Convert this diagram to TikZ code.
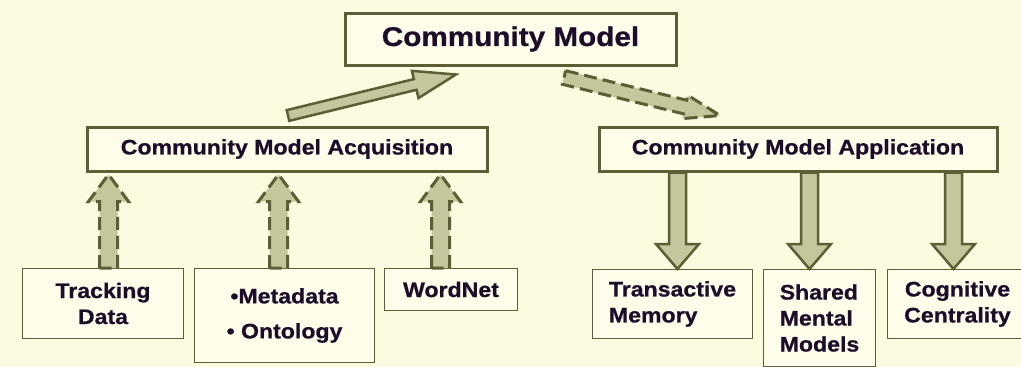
\documentclass[tikz,border=0pt]{standalone}
\usepackage{fontspec}
\setmainfont{Liberation Sans}[FakeStretch=1.1, BoldFeatures={FakeBold=0.8}]
\usetikzlibrary{positioning,calc}

\definecolor{bgcol}{HTML}{FBFCDF}
\definecolor{boxfill}{HTML}{FDFDEA}
\definecolor{boxline}{HTML}{5E5E36}
\definecolor{armfill}{HTML}{C6C69C}
\definecolor{txt}{HTML}{1E0D2A}

\begin{document}
\begin{tikzpicture}[x=1pt,y=1pt,
fat/.style n args={3}{fill=armfill, draw=boxline, line width=2.5pt,
  to path={
    ($(\tikztostart)!#1!90:(\tikztotarget)$)
    -- ($(\tikztotarget)!#3!(\tikztostart)!#1!-90:(\tikztostart)$)
    -- ($(\tikztotarget)!#3!(\tikztostart)!#2!-90:(\tikztostart)$)
    -- (\tikztotarget)
    -- ($(\tikztotarget)!#3!(\tikztostart)!#2!90:(\tikztostart)$)
    -- ($(\tikztotarget)!#3!(\tikztostart)!#1!90:(\tikztostart)$)
    -- ($(\tikztostart)!#1!-90:(\tikztotarget)$) -- cycle}},
dash fat/.style n args={3}{fat={#1}{#2}{#3}, line width=3pt, dash pattern=on 13pt off 6pt},
midbox/.style={line width=3pt, minimum height=44pt, font=\fontsize{21}{25}\selectfont\bfseries},
leaf/.style={line width=1pt, anchor=north west, font=\fontsize{21}{26}\selectfont\bfseries}]
\path[use as bounding box, fill=bgcol] (0,0) rectangle (1021,-367);
\tikzstyle{every node}=[draw=boxline, fill=boxfill, text=txt]
    \node (Model) [line width=3pt, minimum width=331pt, minimum height=52pt,
        font=\fontsize{27}{32}\selectfont\bfseries] at (510.5,-39) {Community Model};
    \node (Acq) [midbox, minimum width=400pt] at (287,-149) {Community Model Acquisition};
    \node (App) [midbox, minimum width=398pt] at (798,-149) {Community Model Application};
   % Sources of the model
    \node (Track) [leaf, minimum width=161pt, minimum height=70pt, align=center] at (22,-268) {Tracking\\Data};
    \node (Meta) [leaf, right=10pt of Track.north east, anchor=north west, minimum width=180pt,
        minimum height=94pt, align=center] {•Metadata\\[9pt]• Ontology};
    \node (Word) [leaf, right=9pt of Meta.north east, anchor=north west, minimum width=133pt,
        minimum height=42pt] {WordNet};
   % Uses of the model
    \node (Trans) [leaf, minimum width=160pt, minimum height=69pt, align=left] at (592,-269) {Transactive\\Memory};
    \node (Shared) [leaf, right=10pt of Trans.north east, anchor=north west, minimum width=112pt,
        minimum height=97pt, align=left] {Shared\\Mental\\Models};
    \node (Cog) [leaf, right=11pt of Shared.north east, anchor=north west, minimum width=140pt,
        minimum height=69pt, align=center] {Cognitive\\Centrality};

   \draw[fat={5.5pt}{14pt}{42pt}] ($(Acq.north)+(1,10)$) to ($(Model.south)+(-54.5,-8)$);
   \draw[dash fat={7pt}{12pt}{36pt}] ($(Model.south)+(53.5,-11)$) to ($(App.north)+(-78,10)$);
   \foreach \nd/\dx in {Track/5.5, Meta/-6, Word/-10.5}
     \draw[dash fat={9pt}{20pt}{27pt}] ($(\nd.north)+(\dx,0)$) to ($(\nd.north |- Acq.south)+(\dx,-2)$);
   \foreach \nd/\dx in {Trans/5, Shared/-10, Cog/-4}
     \draw[fat={8.5pt}{21.5pt}{25pt}] ($(\nd.north |- App.south)+(\dx,0)$) to ($(\nd.north)+(\dx,0)$);
\end{tikzpicture}
\end{document}
